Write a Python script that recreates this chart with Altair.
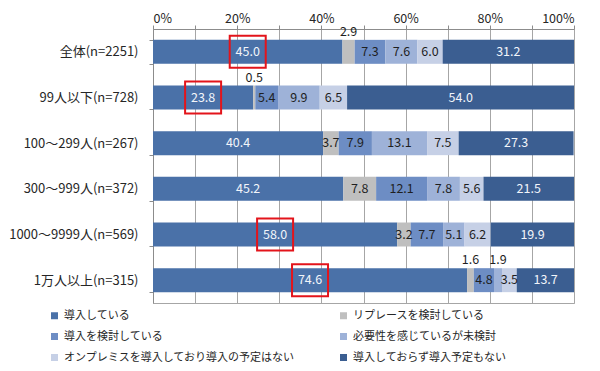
import altair as alt
import pandas as pd

categories = ["全体(n=2251)", "99人以下(n=728)", "100～299人(n=267)",
              "300～999人(n=372)", "1000～9999人(n=569)", "1万人以上(n=315)"]
series = ["導入している", "リプレースを検討している", "導入を検討している",
          "必要性を感じているが未検討", "オンプレミスを導入しており導入の予定はない",
          "導入しておらず導入予定もない"]
v_introduced = [45.0, 23.8, 40.4, 45.2, 58.0, 74.6]
v_replace = [2.9, 0.5, 3.7, 7.8, 3.2, 1.6]
v_considering = [7.3, 5.4, 7.9, 12.1, 7.7, 4.8]
v_needed = [7.6, 9.9, 13.1, 7.8, 5.1, 1.9]
v_onprem = [6.0, 6.5, 7.5, 5.6, 6.2, 3.5]
v_none = [31.2, 54.0, 27.3, 21.5, 19.9, 13.7]
colors = ["#4A71A8", "#BFBFBF", "#6D8DC4", "#9EB2D8", "#C6D0E6", "#3B5E91"]
highlighted = ["全体(n=2251)", "99人以下(n=728)", "1000～9999人(n=569)", "1万人以上(n=315)"]

all_values = [v_introduced, v_replace, v_considering, v_needed, v_onprem, v_none]
rows = []
for i, cat in enumerate(categories):
    start = 0.0
    for j, s in enumerate(series):
        v = all_values[j][i]
        rows.append({"cat": cat, "series": s, "value": v, "order": j,
                     "x0": start, "x1": start + v, "mid": start + v / 2,
                     "hl": cat in highlighted and j == 0})
        start += v
df = pd.DataFrame(rows)

FONT = "Noto Sans CJK JP"

y_enc = alt.Y("cat:N", sort=categories,
              scale=alt.Scale(paddingInner=0.475, paddingOuter=0.2375),
              axis=alt.Axis(title=None, tickBand="extent", tickSize=4, tickColor="#8c8c8c",
                            domainColor="#8c8c8c", labelFontSize=13, labelColor="#262626",
                            labelPadding=11, labelFont=FONT, labelLimit=200))

x_scale = alt.Scale(domain=[0, 100], nice=False)

bars = alt.Chart(df).mark_bar(clip=True, cornerRadius=0).encode(
    x=alt.X("x0:Q", scale=x_scale,
            axis=alt.Axis(orient="top", title=None, values=list(range(0, 101, 10)),
                          labelExpr="datum.value + '%'", grid=True, gridColor="#a6a6a6",
                          tickSize=4, tickColor="#8c8c8c", domainColor="#8c8c8c",
                          labelFontSize=12.5, labelColor="#262626", labelPadding=0,
                          labelFont=FONT)),
    x2="x1:Q",
    y=y_enc,
    color=alt.Color("series:N", scale=alt.Scale(domain=series, range=colors),
                    legend=alt.Legend(title=None, orient="none", legendX=-104, legendY=281,
                                      direction="horizontal",
                                      columns=2, symbolType="square", symbolSize=49,
                                      symbolStrokeWidth=0, labelFontSize=11,
                                      labelFont=FONT, labelColor="#262626",
                                      columnPadding=43, rowPadding=9, labelLimit=320)),
    order=alt.Order("order:Q"),
)

dark_test = (alt.datum.series == series[0]) | (alt.datum.series == series[5])

inside = alt.Chart(df).transform_filter(alt.datum.value >= 3).mark_text(
    font=FONT, fontSize=12.5, baseline="middle", align="center"
).encode(
    x=alt.X("mid:Q", scale=x_scale),
    y=alt.Y("cat:N", sort=categories),
    text=alt.Text("value:Q", format=".1f"),
    color=alt.condition(dark_test, alt.value("#F2F5FA"), alt.value("#1F1F1F")),
)

above = alt.Chart(df).transform_filter(alt.datum.value < 3).mark_text(
    font=FONT, fontSize=12.5, baseline="middle", align="center", dy=-20, color="#1F1F1F"
).encode(
    x=alt.X("mid:Q", scale=x_scale),
    y=alt.Y("cat:N", sort=categories),
    text=alt.Text("value:Q", format=".1f"),
)

boxes = alt.Chart(df).transform_filter(alt.datum.hl).mark_point(
    shape="M-1,-0.889L1,-0.889L1,0.889L-1,0.889Z", size=1296, filled=False,
    stroke="#E3141B", strokeWidth=2, opacity=1
).encode(
    x=alt.X("mid:Q", scale=x_scale),
    y=alt.Y("cat:N", sort=categories),
)

chart = alt.layer(bars, inside, above, boxes).properties(
    width=421, height=274,
    autosize=alt.AutoSizeParams(type="none"),
    padding={"left": 145, "top": 21, "right": 18, "bottom": 60},
).configure(font=FONT).configure_view(stroke="#a6a6a6")

chart.save("out.html", embed_options={"renderer": "svg", "actions": False})
